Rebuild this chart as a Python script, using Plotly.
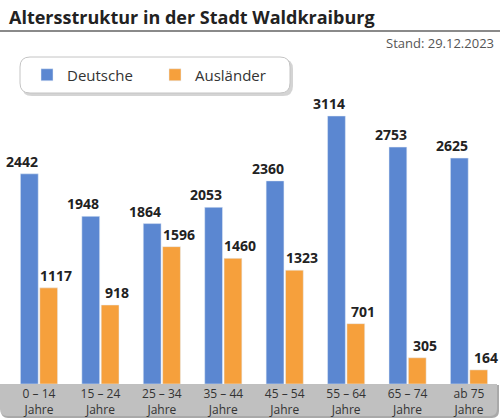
import plotly.graph_objects as go

# Altersgruppen und Einwohnerzahlen (Stand 29.12.2023)
categories = ["0 – 14<br>Jahre", "15 – 24<br>Jahre", "25 – 34<br>Jahre", "35 – 44<br>Jahre",
              "45 – 54<br>Jahre", "55 – 64<br>Jahre", "65 – 74<br>Jahre", "ab 75<br>Jahre"]
deutsche = [2442, 1948, 1864, 2053, 2360, 3114, 2753, 2625]
auslaender = [1117, 918, 1596, 1460, 1323, 701, 305, 164]

BLUE = "#5b87d1"
ORANGE = "#f6a03c"
FONT = "Open Sans"

W, H = 500, 420
L, R, T, B = 4, 0, 100, 36
PW, PH = W - L - R, H - T - B


def px(x):
    return (x - L) / PW


def py(y):
    return (H - B - y) / PH


def rounded(x0, y0, x1, y1, r, top=True):
    """Rounded rectangle path (pixel input) in paper coords."""
    rt = r if top else 0
    pts = [
        f"M{px(x0 + rt)},{py(y0)}",
        f"L{px(x1 - rt)},{py(y0)}",
        f"Q{px(x1)},{py(y0)} {px(x1)},{py(y0 + rt)}",
        f"L{px(x1)},{py(y1 - r)}",
        f"Q{px(x1)},{py(y1)} {px(x1 - r)},{py(y1)}",
        f"L{px(x0 + r)},{py(y1)}",
        f"Q{px(x0)},{py(y1)} {px(x0)},{py(y1 - r)}",
        f"L{px(x0)},{py(y0 + rt)}",
        f"Q{px(x0)},{py(y0)} {px(x0 + rt)},{py(y0)}",
        "Z",
    ]
    return " ".join(pts)


fig = go.Figure()
fig.add_trace(go.Bar(name="Deutsche", x=categories, y=deutsche, marker_color=BLUE))
fig.add_trace(go.Bar(name="Ausländer", x=categories, y=auslaender, marker_color=ORANGE))

annotations = []
for cat, v in zip(categories, deutsche):
    annotations.append(dict(x=cat, y=v, xref="x", yref="y", text=f"<b>{v}</b>", showarrow=False,
                            xshift=-17, yshift=1, yanchor="bottom",
                            font=dict(family=FONT, size=14, color="#222")))
for cat, v in zip(categories, auslaender):
    annotations.append(dict(x=cat, y=v, xref="x", yref="y", text=f"<b>{v}</b>", showarrow=False,
                            xshift=17, yshift=1, yanchor="bottom",
                            font=dict(family=FONT, size=14, color="#222")))

annotations.append(dict(x=px(7), y=py(17), xref="paper", yref="paper", xanchor="left",
                        yanchor="middle", showarrow=False,
                        text="<b>Altersstruktur in der Stadt Waldkraiburg</b>",
                        font=dict(family=FONT, size=18, color="#222")))
annotations.append(dict(x=px(496), y=py(43), xref="paper", yref="paper", xanchor="right",
                        yanchor="middle", showarrow=False, text="Stand: 29.12.2023",
                        font=dict(family=FONT, size=13, color="#555")))

shapes = [
    dict(type="line", xref="paper", yref="paper", x0=px(0), x1=px(500), y0=py(31), y1=py(31),
         line=dict(color="#8a8a8a", width=2)),
    # legend box with shadow
    dict(type="path", xref="paper", yref="paper", path=rounded(22, 59, 293, 96, 10),
         fillcolor="#d4d4d4", line=dict(width=0), layer="below"),
    dict(type="path", xref="paper", yref="paper", path=rounded(20, 57, 290, 93, 10),
         fillcolor="white", line=dict(color="#c4c4c4", width=1), layer="below"),
    # grey band behind category labels
    dict(type="path", xref="paper", yref="paper", path=rounded(1, 385, 499, 418, 7, top=False),
         fillcolor="#a9a9a9", line=dict(width=0), layer="below"),
    dict(type="path", xref="paper", yref="paper", path=rounded(0, 384, 497, 416, 7, top=False),
         fillcolor="#c0c0c0", line=dict(width=0), layer="below"),
]

fig.update_layout(
    width=W, height=H,
    margin=dict(l=L, r=R, t=T, b=B, pad=0),
    paper_bgcolor="white", plot_bgcolor="rgba(0,0,0,0)",
    barmode="group", bargap=0.37, bargroupgap=0.08,
    showlegend=True,
    legend=dict(orientation="h", x=px(27), y=py(75), xanchor="left", yanchor="middle",
                bgcolor="rgba(0,0,0,0)", font=dict(family=FONT, size=15, color="#333"),
                entrywidth=83, entrywidthmode="pixels", traceorder="normal"),
    annotations=annotations,
    shapes=shapes,
    xaxis=dict(showline=False, showgrid=False, ticks="", zeroline=False, ticklabelstandoff=1,
               tickfont=dict(family=FONT, size=12, color="#333")),
    yaxis=dict(visible=False, range=[0, 3300], fixedrange=True),
    font=dict(family=FONT),
)

# page margin off so the 500x420 figure fills the window exactly
fig.write_html("out.html", config={"displayModeBar": False},
               post_script="document.body.style.margin='0';")
